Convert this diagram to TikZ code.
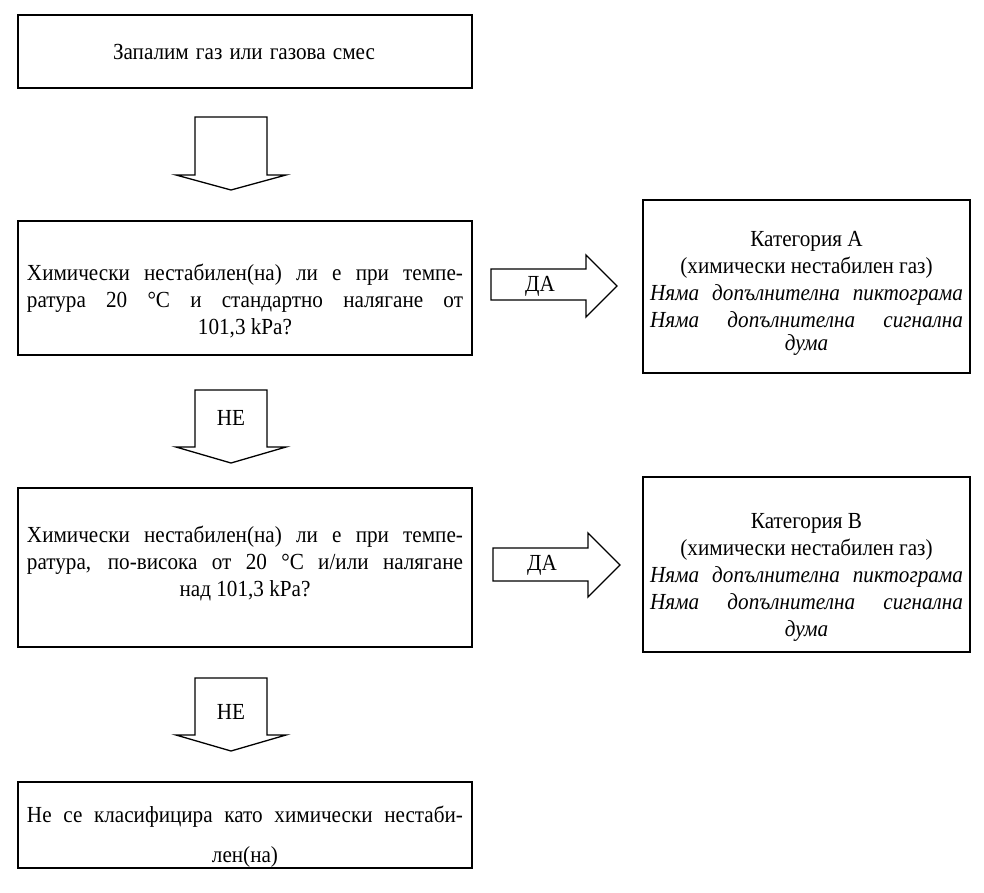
\documentclass[tikz,border=0pt]{standalone}
\usepackage{fontspec}
\setmainfont{Liberation Serif}[FakeStretch=0.92]
\newcommand\jl[2]{\makebox[#1][s]{#2}}
\tikzset{
  box/.style={draw, line width=1.6pt, inner sep=0pt},
  txt/.style={align=center, inner sep=0pt, font=\fontsize{23}{27}\selectfont},
  blockarrow/.style={draw, line width=1.3pt, line join=miter, fill=white},
  arrlabel/.style={inner sep=0pt, font=\fontsize{23}{27}\selectfont}
}
\begin{document}
\begin{tikzpicture}[x=1pt,y=-1pt]
\useasboundingbox (0,0) rectangle (984,892);
% boxes
\node[box, minimum width=454pt, minimum height=73pt] (b1) at (245,51.5) {};
\node[box, minimum width=454pt, minimum height=134pt] (b2) at (245,288) {};
\node[box, minimum width=454pt, minimum height=159pt] (b3) at (245,567.5) {};
\node[box, minimum width=454pt, minimum height=86pt] (b4) at (245,825) {};
\node[box, minimum width=327pt, minimum height=173pt] (bA) at (806.5,286.5) {};
\node[box, minimum width=327pt, minimum height=175pt] (bB) at (806.5,564.5) {};
% texts
\node[txt] (t1) at (244,52) {\jl{262pt}{Запалим газ или газова смес}};
\node[txt] (t2) at (245,301) {\jl{436pt}{Химически нестабилен(на) ли е при темпе-}\\
  \jl{436pt}{ратура 20 °C и стандартно налягане от}\\ 101,3 kPa?};
\node[txt] (t3) at (245,563.5) {\jl{436pt}{Химически нестабилен(на) ли е при темпе-}\\
  \jl{436pt}{ратура, по-висока от 20 °C и/или налягане}\\ над 101,3 kPa?};
\node[txt] (t4) at (245,837) {\jl{436pt}{Не се класифицира като химически нестаби-}\\[13pt] лен(на)};
\node[txt] (tA) at (806.5,293) {Категория A\\ (химически нестабилен газ)\\
  \itshape\jl{313pt}{Няма допълнителна пиктограма}\\
  \itshape\jl{313pt}{Няма допълнителна сигнална}\\[-4pt] \itshape дума};
\node[txt] (tB) at (806.5,577) {Категория B\\ (химически нестабилен газ)\\
  \itshape\jl{313pt}{Няма допълнителна пиктограма}\\
  \itshape\jl{313pt}{Няма допълнителна сигнална}\\ \itshape дума};
% block arrows
\draw[blockarrow] (195,117) -- (267,117) -- (267,175) -- (286,175) -- (231,190) -- (176,175) -- (195,175) -- cycle;
\draw[blockarrow] (195,390) -- (267,390) -- (267,447) -- (286,447) -- (231,463) -- (176,447) -- (195,447) -- cycle;
\draw[blockarrow] (195,678) -- (267,678) -- (267,735) -- (286,735) -- (231,751) -- (176,735) -- (195,735) -- cycle;
\draw[blockarrow] (491,269) -- (586,269) -- (586,255) -- (617,286) -- (586,317) -- (586,300) -- (491,300) -- cycle;
\draw[blockarrow] (493,548) -- (588,548) -- (588,533) -- (620,565) -- (588,597) -- (588,581) -- (493,581) -- cycle;
% arrow labels
\node[arrlabel] (ne1) at (231,418) {НЕ};
\node[arrlabel] (ne2) at (231,712) {НЕ};
\node[arrlabel] (da1) at (540,286) {ДА};
\node[arrlabel] (da2) at (542,565) {ДА};
\end{tikzpicture}
\end{document}
